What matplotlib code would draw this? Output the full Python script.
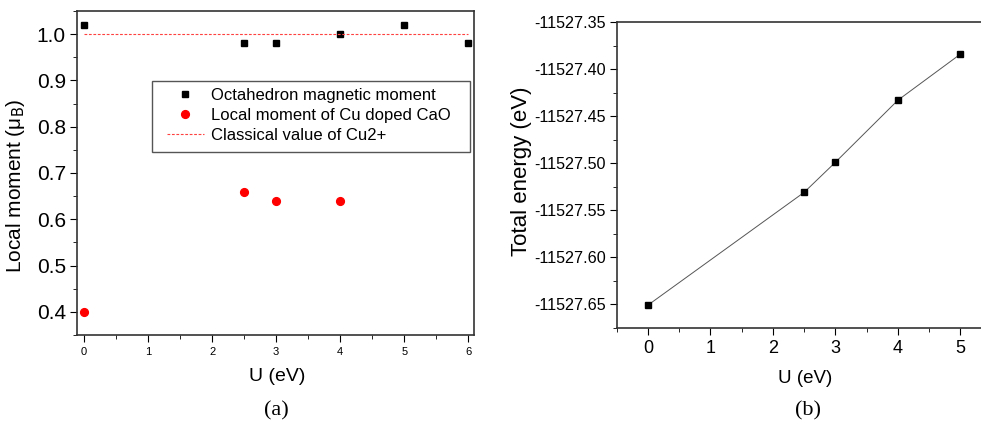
import matplotlib
matplotlib.use("Agg")
import matplotlib.pyplot as plt
import matplotlib.ticker as ticker
from matplotlib.patches import Rectangle

# ---- data ----
u_oct = [0, 2.5, 3, 4, 5, 6]
m_oct = [1.02, 0.98, 0.98, 1.00, 1.02, 0.98]

u_cu = [0, 2.5, 3, 4]
m_cu = [0.40, 0.66, 0.64, 0.64]

u_classical = [0, 6]
m_classical = [1.0, 1.0]

u_energy = [0, 2.5, 3, 4, 5]
e_total = [-11527.651, -11527.531, -11527.499, -11527.433, -11527.384]

plt.rcParams["font.family"] = ["Liberation Sans", "DejaVu Sans"]
plt.rcParams["axes.edgecolor"] = "#333333"
plt.rcParams["axes.linewidth"] = 1.2

fig = plt.figure(figsize=(9.81, 4.28), dpi=100)

# ---- panel (a) ----
ax1 = fig.add_axes([0.0785, 0.2173, 0.4047, 0.757])
ax1.plot(u_oct, m_oct, "s", color="black", ms=4.6, label="Octahedron magnetic moment")
ax1.plot(u_cu, m_cu, "o", color="red", ms=5.6, label="Local moment of Cu doped CaO")
ax1.plot(u_classical, m_classical, color="#ff4040", lw=0.8, ls=(0, (2.5, 1.5)),
         label="Classical value of Cu2+")
ax1.set_xlim(-0.11, 6.09)
ax1.set_ylim(0.35, 1.05)
ax1.xaxis.set_major_locator(ticker.MultipleLocator(1))
ax1.xaxis.set_minor_locator(ticker.MultipleLocator(0.5))
ax1.yaxis.set_major_locator(ticker.MultipleLocator(0.1))
ax1.yaxis.set_minor_locator(ticker.MultipleLocator(0.05))
ax1.yaxis.set_major_formatter(ticker.FormatStrFormatter("%.1f"))
ax1.tick_params(axis="both", which="both", direction="out")
ax1.tick_params(axis="x", which="major", labelsize=8, length=5, pad=4)
ax1.tick_params(axis="y", which="major", labelsize=15, length=5, pad=3)
ax1.tick_params(which="minor", length=3)
ax1.set_xlabel("U (eV)", fontsize=14)
ax1.set_ylabel("Local moment (μ$_\\mathrm{B}$)", fontsize=15)
ax1.xaxis.set_label_coords(0.504, -0.102)
ax1.yaxis.set_label_coords(-0.126, 0.46)

# legend frame drawn by hand so the entries sit with the original's padding
ax1.add_patch(Rectangle((0.189, 0.565), 0.801, 0.219, transform=ax1.transAxes,
                        facecolor="white", edgecolor="#555555", lw=1.0, zorder=4.5))
leg = ax1.legend(loc="upper left", bbox_to_anchor=(0.227, 0.762), fontsize=12,
                 frameon=False, handlelength=2.2, handletextpad=0.45,
                 borderpad=0, labelspacing=0.3, borderaxespad=0)

# ---- panel (b) ----
ax2 = fig.add_axes([0.6286, 0.2343, 0.3823, 0.714])
ax2.plot(u_energy, e_total, "-s", color="#555555", ms=4.6, lw=0.7,
         mfc="black", mec="black")
ax2.set_xlim(-0.5, 5.5)
ax2.set_ylim(-11527.675, -11527.35)
ax2.xaxis.set_major_locator(ticker.MultipleLocator(1))
ax2.xaxis.set_minor_locator(ticker.MultipleLocator(0.5))
ax2.yaxis.set_major_locator(ticker.MultipleLocator(0.05))
ax2.yaxis.set_minor_locator(ticker.MultipleLocator(0.025))
ax2.yaxis.set_major_formatter(ticker.FormatStrFormatter("%.2f"))
ax2.tick_params(axis="both", which="both", direction="out")
ax2.tick_params(axis="x", which="major", labelsize=13, length=5, pad=4)
ax2.tick_params(axis="y", which="major", labelsize=11.6, length=5, pad=3)
ax2.tick_params(which="minor", length=3)
ax2.set_xlabel("U (eV)", fontsize=13.5)
ax2.set_ylabel("Total energy (eV)", fontsize=16)
ax2.xaxis.set_label_coords(0.502, -0.138)
ax2.yaxis.set_label_coords(-0.226, 0.513)

# ---- panel captions ----
fig.text(276 / 981, 1 - 411 / 428, "(a)", fontsize=16, ha="center", va="center",
         family=["Liberation Serif", "DejaVu Serif"])
fig.text(808 / 981, 1 - 411 / 428, "(b)", fontsize=16, ha="center", va="center",
         family=["Liberation Serif", "DejaVu Serif"])

fig.savefig("out.png", dpi=100)
